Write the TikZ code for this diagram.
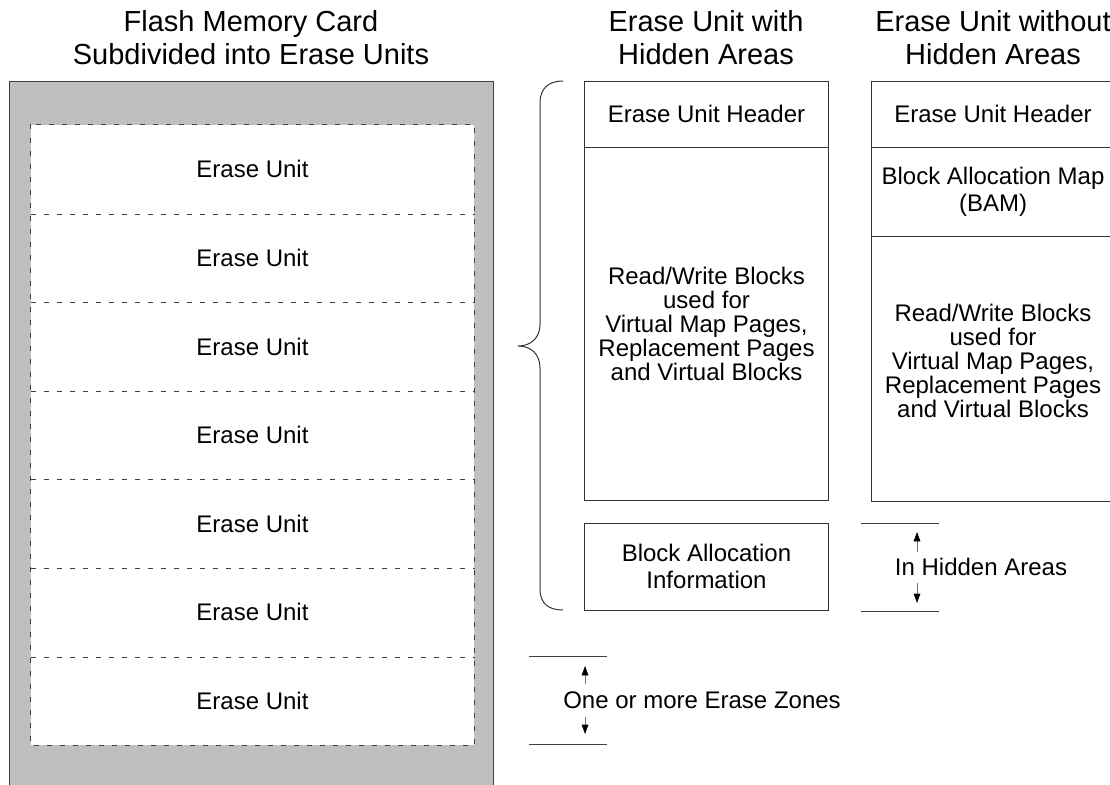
\documentclass[tikz,border=0pt]{standalone}
\usepackage{fontspec}
\setmainfont{Liberation Sans}

\tikzset{every picture/.style={line width=0.75pt}}
\tikzset{
  unitbox/.style={fill=white, minimum width=332.25pt, minimum height=66.43pt, inner sep=0pt, font=\fontsize{18}{21}\selectfont},
  colbox/.style={draw=black!80, minimum width=182.5pt, inner sep=0pt, align=center},
  twoline/.style={font=\fontsize{18}{20.5}\selectfont},
  manyline/.style={font=\fontsize{18}{18}\selectfont},
  titletext/.style={align=center, inner sep=0pt, font=\fontsize{21.75}{24.75}\selectfont},
  unitline/.style={draw=black!75, dash pattern=on 3.75pt off 6pt, line width=0.6pt},
  dimline/.style={draw=black!75},
  dimshaft/.style={draw=black!55},
}

\begin{document}
\begin{tikzpicture}[x=0.75pt,y=0.75pt,yscale=-1,xscale=1]
\useasboundingbox (0,0) rectangle (1110,785);
\clip (0,0) rectangle (1110,785);

% Titles
\node [titletext] (tcard) at (251,37.5) {Flash Memory Card\\Subdivided into Erase Units};
\node [titletext] (twith) at (706,37.5) {Erase Unit with\\Hidden Areas};
\node [titletext] (twithout) at (993,37.5) {Erase Unit without\\Hidden Areas};

%Shape: Rectangle (card)
\draw [draw=black!75, fill=gray!50] (9,81) rectangle (493,800);

% Erase units
\foreach \i in {1,...,7}
  \node [unitbox] (eu\i) at (252.5,{125+88.57*(\i-0.5)}) {Erase Unit};
\draw [unitline] (eu1.north west) rectangle (eu7.south east);
\foreach \i in {1,...,6}
  \draw [unitline] (eu\i.south west) -- (eu\i.south east);

%Shape: Brace
\draw [draw=black!80] (563,81) .. controls (549,81) and (540,88) .. (540,103) -- (540,324) .. controls (540,338) and (531,346) .. (518,346) .. controls (531,346) and (540,354) .. (540,368) -- (540,589) .. controls (540,604) and (549,610) .. (563,610) ;

% Erase unit with hidden areas
\node [colbox, twoline, minimum height=49.5pt] (whead) at (706.5,114) {Erase Unit Header};
\node [colbox, manyline, minimum height=264.75pt] (wrw) at (706.5,323.5) {Read/Write Blocks\\used for\\Virtual Map Pages,\\Replacement Pages\\and Virtual Blocks};
\node [colbox, twoline, minimum height=65.25pt] (wbai) at (706.5,566.5) {Block Allocation\\Information};

% Erase unit without hidden areas
\node [colbox, twoline, minimum height=49.5pt] (ohead) at (993,114) {Erase Unit Header};
\node [colbox, twoline, minimum height=66.75pt] (obam) at (993,191.5) {Block Allocation Map\\(BAM)};
\node [colbox, minimum height=198.75pt] (orw) at (993,368.5) {};
% Text Node
\node [manyline, align=center, inner sep=0pt] (orwtext) at (993,361) {Read/Write Blocks\\used for\\Virtual Map Pages,\\Replacement Pages\\and Virtual Blocks};

% In hidden areas
\coordinate (ha1) at (861,523);
\coordinate (ha2) at (939,523);
\coordinate (ha3) at (861,611);
\coordinate (ha4) at (939,611);
\coordinate (haup) at (917,533);
\coordinate (hadown) at (917,602);
\node [font=\fontsize{18}{21}\selectfont, inner sep=0pt] (hidden) at (981,567) {In Hidden Areas};
%Straight Lines
\draw [dimline] (ha1) -- (ha2) ;
\draw [dimline] (ha3) -- (ha4) ;
\draw [dimshaft] (917,552) -- (haup) ;
\draw [shift={(haup)}, rotate = 90] [fill=black, draw=black, line width=0.4pt] (0,0) -- (8,-3) -- (8,3) -- cycle ;
\draw [dimshaft] (917,583) -- (hadown) ;
\draw [shift={(hadown)}, rotate = 270] [fill=black, draw=black, line width=0.4pt] (0,0) -- (8,-3) -- (8,3) -- cycle ;

% Erase zones
\coordinate (ez1) at (529,656);
\coordinate (ez2) at (607,656);
\coordinate (ez3) at (529,744);
\coordinate (ez4) at (607,744);
\coordinate (ezup) at (585,667);
\coordinate (ezdown) at (585,733);
\node [font=\fontsize{18}{21}\selectfont, inner sep=0pt] (zones) at (702,700) {One or more Erase Zones};
%Straight Lines
\draw [dimline] (ez1) -- (ez2) ;
\draw [dimline] (ez3) -- (ez4) ;
\draw [dimshaft] (585,684) -- (ezup) ;
\draw [shift={(ezup)}, rotate = 90] [fill=black, draw=black, line width=0.4pt] (0,0) -- (8,-3) -- (8,3) -- cycle ;
\draw [dimshaft] (585,717) -- (ezdown) ;
\draw [shift={(ezdown)}, rotate = 270] [fill=black, draw=black, line width=0.4pt] (0,0) -- (8,-3) -- (8,3) -- cycle ;

\end{tikzpicture}
\end{document}
